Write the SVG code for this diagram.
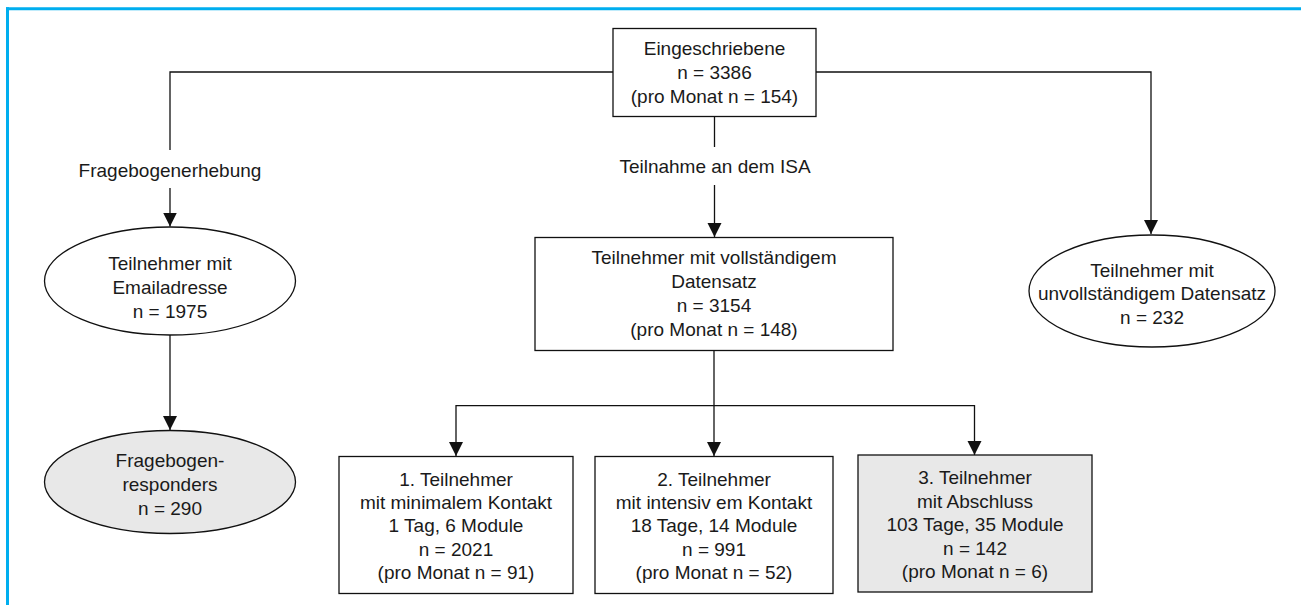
<svg xmlns="http://www.w3.org/2000/svg" width="1301" height="605" viewBox="0 0 1301 605">
<style>
.n{fill:#fff;stroke:#111;stroke-width:1.3}
.g{fill:#e8e8e8;stroke:#111;stroke-width:1.3}
.c{fill:none;stroke:#111;stroke-width:1.3}
text{font-family:"Liberation Sans",Arial,sans-serif;font-size:19px;fill:#1a1a1a;text-anchor:middle}
</style>
<defs>
<marker id="ah" viewBox="0 0 14 15" refX="14" refY="7" markerWidth="14" markerHeight="15" markerUnits="userSpaceOnUse" orient="auto">
<path d="M0,0 L14,7 L0,14 z" fill="#111"/>
</marker>
</defs>
<rect width="1301" height="605" fill="#fff"/>
<g id="frame">
<line x1="6" y1="8.8" x2="1301" y2="8.8" stroke="#00AEEF" stroke-width="3"/>
<line x1="7.5" y1="7.3" x2="7.5" y2="605" stroke="#00AEEF" stroke-width="3"/>
</g>
<g id="connectors">
<polyline class="c" points="613,72 170,72 170,150"/>
<line class="c" x1="170" y1="188" x2="170" y2="226.5" marker-end="url(#ah)"/>
<text x="170" y="177">Fragebogenerhebung</text>
<polyline class="c" points="816,72 1151,72 1151,234" marker-end="url(#ah)"/>
<line class="c" x1="714.5" y1="117" x2="714.5" y2="147"/>
<line class="c" x1="714.5" y1="185" x2="714.5" y2="237" marker-end="url(#ah)"/>
<text x="715" y="173">Teilnahme an dem ISA</text>
<line class="c" x1="170" y1="335" x2="170" y2="430" marker-end="url(#ah)"/>
<line class="c" x1="714" y1="351" x2="714" y2="456" marker-end="url(#ah)"/>
<polyline class="c" points="714,405.7 974.5,405.7 974.5,455" marker-end="url(#ah)"/>
<polyline class="c" points="714,405.7 456,405.7 456,456" marker-end="url(#ah)"/>
</g>
<g id="eingeschriebene">
<rect class="n" x="613" y="28.5" width="203" height="88"/>
<text x="714.5" y="55">Eingeschriebene</text>
<text x="714.5" y="79">n = 3386</text>
<text x="714.5" y="103">(pro Monat n = 154)</text>
</g>
<g id="email">
<ellipse class="n" cx="170" cy="281" rx="125.5" ry="54"/>
<text x="170" y="270">Teilnehmer mit</text>
<text x="170" y="294">Emailadresse</text>
<text x="170" y="318">n = 1975</text>
</g>
<g id="responders">
<ellipse class="g" cx="170" cy="482" rx="125.5" ry="51.5"/>
<text x="170" y="467">Fragebogen-</text>
<text x="170" y="491">responders</text>
<text x="170" y="515">n = 290</text>
</g>
<g id="unvollstaendig">
<ellipse class="n" cx="1152" cy="291" rx="123" ry="56"/>
<text x="1152" y="277">Teilnehmer mit</text>
<text x="1152" y="300">unvollständigem Datensatz</text>
<text x="1152" y="324">n = 232</text>
</g>
<g id="vollstaendig">
<rect class="n" x="535" y="237.5" width="358" height="113"/>
<text x="714" y="264">Teilnehmer mit vollständigem</text>
<text x="714" y="288">Datensatz</text>
<text x="714" y="312">n = 3154</text>
<text x="714" y="336">(pro Monat n = 148)</text>
</g>
<g id="minimal">
<rect class="n" x="339" y="456.5" width="234" height="137"/>
<text x="456" y="485.5">1. Teilnehmer</text>
<text x="456" y="509">mit minimalem Kontakt</text>
<text x="456" y="532">1 Tag, 6 Module</text>
<text x="456" y="555.5">n = 2021</text>
<text x="456" y="579">(pro Monat n = 91)</text>
</g>
<g id="intensiv">
<rect class="n" x="595" y="456.5" width="238" height="137"/>
<text x="714" y="485.5">2. Teilnehmer</text>
<text x="714" y="509">mit intensiv em Kontakt</text>
<text x="714" y="532">18 Tage, 14 Module</text>
<text x="714" y="555.5">n = 991</text>
<text x="714" y="579">(pro Monat n = 52)</text>
</g>
<g id="abschluss">
<rect class="g" x="858" y="455" width="234" height="137"/>
<text x="975" y="484">3. Teilnehmer</text>
<text x="975" y="507.5">mit Abschluss</text>
<text x="975" y="531">103 Tage, 35 Module</text>
<text x="975" y="554.5">n = 142</text>
<text x="975" y="578">(pro Monat n = 6)</text>
</g>
</svg>
